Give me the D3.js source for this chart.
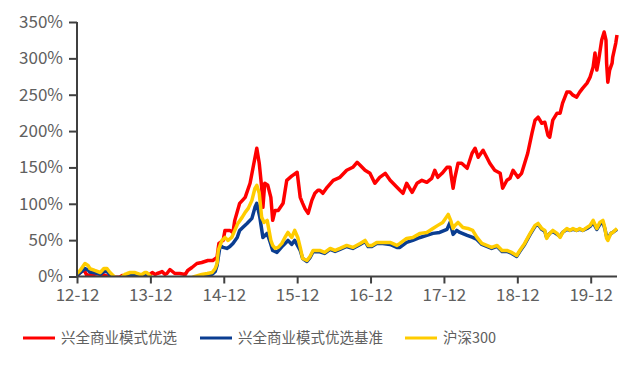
<!DOCTYPE html>
<html><head><meta charset="utf-8">
<script src="https://cdn.jsdelivr.net/npm/d3@7"></script>
<style>html,body{margin:0;padding:0;background:#fff;}svg{display:block;}</style>
</head><body>
<svg id="c" width="640" height="369"></svg>
<script>
// months since 2012-12, cumulative return (%)
const fund = [[0,0],[0.5,5.5],[1.0,8.3],[1.3,6.9],[1.6,1.4],[2.5,2.8],[3.8,4.1],[4.6,1.4],[5.4,-1],[7.0,-1],[7.4,1.4],[8.5,-1],[9.5,0.5],[11.1,1.5],[11.9,2.8],[12.3,5.5],[12.8,2.8],[13.1,4.1],[13.6,5.5],[13.9,6.9],[14.4,2.8],[14.7,4.1],[15.2,9.6],[16.0,4.1],[16.8,4.1],[17.7,2.8],[18.1,8.3],[18.8,12.4],[19.6,17.9],[20.4,19.3],[21.4,22.0],[22.2,22.0],[22.9,26.2],[23.2,45.5],[23.9,49.6],[24.2,63.4],[25.0,63.4],[25.5,60.6],[25.8,77.2],[26.6,100.6],[27.5,108.9],[28.3,128.2],[28.8,150.2],[29.4,176.4],[29.8,155.7],[30.2,122.6],[30.4,95.1],[30.7,128.2],[31.2,125.4],[31.7,108.9],[32.0,77.2],[32.4,90.9],[32.9,90.9],[33.7,100.6],[34.3,132.3],[35.1,138.0],[36.0,143.3],[36.5,108.9],[36.9,100.6],[37.3,93.0],[37.8,86.8],[38.4,104.7],[38.9,114.4],[39.4,118.5],[39.7,118.5],[40.2,114.4],[40.9,122.6],[41.9,132.3],[43.0,136.4],[44.1,146.1],[45.1,150.2],[45.8,157.1],[46.3,153.0],[47.1,146.1],[47.9,141.9],[48.7,128.2],[49.5,136.4],[50.4,141.9],[51.2,132.3],[52.0,125.4],[52.8,118.5],[53.3,114.4],[53.9,128.2],[54.8,115.8],[55.6,128.2],[56.4,132.3],[57.2,129.5],[58.0,135.0],[58.5,146.1],[59.0,136.4],[59.7,141.9],[60.5,150.2],[61.0,150.2],[61.3,132.3],[61.5,121.3],[61.8,136.4],[62.3,155.7],[62.9,155.7],[63.8,148.8],[64.6,169.5],[65.1,176.4],[65.6,164.0],[66.4,173.6],[67.0,164.0],[67.5,155.7],[68.3,146.1],[69.2,141.9],[69.6,121.3],[70.3,132.3],[70.8,135.0],[71.3,146.1],[72.1,136.4],[72.7,141.9],[73.2,155.7],[73.7,169.5],[74.4,197.1],[74.9,215.0],[75.4,219.1],[76.0,210.8],[76.5,212.2],[77.0,194.3],[77.3,191.5],[77.8,215.0],[78.5,224.6],[79.0,224.6],[79.4,238.4],[80.1,253.6],[80.6,253.6],[81.1,249.4],[81.7,246.7],[82.2,253.6],[82.7,259.1],[83.4,266.0],[83.9,274.2],[84.4,288.0],[84.7,307.3],[85.0,283.9],[85.3,297.6],[85.8,325.2],[86.2,336.2],[86.5,325.2],[86.6,293.5],[86.8,267.3],[87.1,283.9],[87.5,293.5],[87.6,301.8],[88.1,321.1],[88.3,332.1]];

const bench = [[0,2],[0.5,5],[1.3,11],[1.8,9],[2.1,6],[2.9,5],[3.8,3],[4.4,7],[4.9,7],[5.4,2],[5.9,0],[6.2,-2],[7.0,-3],[7.8,1],[8.2,2],[8.7,3],[9.5,3],[10.3,1],[11.1,3],[11.9,0],[12.4,-3],[13.6,-6],[15.2,-7],[16.8,-5],[18.1,-3],[19.3,-1],[20.4,1],[21.3,2],[22.1,3],[22.6,7],[22.9,15.2],[23.4,42.7],[23.9,40.0],[24.5,38.6],[25.0,41.3],[25.5,45.5],[26.2,53.7],[26.6,63.4],[27.1,67.5],[27.8,73.0],[28.6,79.9],[29.1,95.1],[29.4,100.6],[29.9,81.3],[30.4,53.7],[31.1,59.3],[31.6,46.9],[32.0,35.8],[32.7,33.1],[33.7,42.7],[34.5,49.6],[35.1,44.1],[35.6,49.6],[36.5,35.8],[36.9,24.8],[37.6,20.7],[38.1,26.0],[38.6,34.0],[39.7,34.0],[40.5,31.7],[41.4,37.2],[42.2,34.4],[43.0,37.2],[44.1,41.3],[45.1,38.6],[46.3,44.1],[47.1,48.2],[47.6,41.3],[48.2,41.3],[49.0,45.5],[50.0,45.5],[51.2,44.1],[52.3,40.0],[52.8,40.0],[53.9,46.9],[54.9,49.6],[56.1,53.7],[57.2,56.5],[58.2,59.3],[59.3,60.6],[60.5,64.8],[61.0,74.4],[61.5,57.9],[62.1,63.4],[62.6,60.6],[63.8,56.5],[64.7,53.7],[65.4,51.0],[66.2,44.1],[67.0,41.3],[67.8,38.6],[68.7,41.3],[69.5,34.4],[70.3,34.4],[71.1,31.7],[71.9,27.6],[72.4,34.4],[73.2,44.1],[74.1,57.9],[74.9,68.9],[75.4,71.7],[76.0,64.8],[76.5,62.0],[76.8,53.7],[77.3,59.3],[77.8,62.0],[78.5,57.9],[79.0,55.1],[79.4,60.6],[80.1,64.8],[80.6,63.4],[81.1,64.8],[81.7,63.4],[82.2,64.8],[82.7,63.4],[83.4,66.1],[83.9,68.9],[84.4,74.4],[85.0,64.8],[85.5,71.7],[86.0,74.4],[86.3,66.1],[86.6,55.1],[86.8,52.4],[87.3,59.3],[87.6,60.6],[88.3,64.8]];

const hs300 = [[0,4.1],[0.5,8.3],[1.3,17.9],[1.8,15.2],[2.1,11.0],[2.9,8.3],[3.8,5.5],[4.4,11.0],[4.9,11.0],[5.4,5.5],[5.9,1.4],[6.2,-1],[7.0,-3],[7.8,2.8],[8.2,4.1],[8.7,5.5],[9.5,5.5],[10.3,2.8],[10.6,2.8],[11.1,5.5],[11.4,5.5],[11.9,1.4],[12.4,-3],[13.6,-8],[15.2,-10],[16.8,-7],[18.1,-4],[19.3,0],[20.4,2.8],[21.3,4.1],[22.1,5.5],[22.6,11.0],[22.9,17.9],[23.1,35.8],[23.7,49.6],[24.2,53.7],[24.7,49.6],[25.3,53.7],[25.8,63.4],[26.3,73.0],[27.0,81.3],[27.5,88.2],[28.0,93.7],[28.6,104.7],[29.1,121.3],[29.4,125.4],[29.8,114.4],[30.2,81.3],[30.6,74.4],[31.1,77.2],[31.4,63.4],[31.7,49.6],[32.0,42.7],[32.4,38.6],[32.9,40.0],[33.5,45.5],[34.0,53.7],[34.5,60.6],[35.1,53.7],[35.6,63.4],[36.1,53.7],[36.5,40.0],[36.9,24.8],[37.6,22.0],[38.1,27.6],[38.6,35.8],[39.4,35.8],[39.7,35.8],[40.5,33.1],[41.4,38.6],[42.2,35.8],[43.0,38.6],[44.1,42.7],[45.1,40.0],[46.3,45.5],[47.1,49.6],[47.6,42.7],[48.2,42.7],[49.0,46.9],[50.0,46.9],[51.2,46.9],[52.3,42.7],[52.8,45.5],[53.9,52.4],[54.9,53.7],[56.1,59.3],[57.2,60.6],[58.2,66.1],[59.0,70.3],[59.8,74.4],[60.7,85.4],[61.1,77.2],[61.5,66.1],[61.8,70.3],[62.3,74.4],[63.1,67.5],[63.9,66.1],[64.7,63.4],[65.4,53.7],[66.2,45.5],[67.0,42.7],[67.8,40.0],[68.7,42.7],[69.5,35.8],[70.3,35.8],[71.1,33.1],[71.9,28.9],[72.4,35.8],[73.2,45.5],[74.1,59.3],[74.9,70.3],[75.4,73.0],[76.0,66.1],[76.5,63.4],[76.8,52.4],[77.3,59.3],[77.8,63.4],[78.5,59.3],[79.0,53.7],[79.4,60.6],[80.1,66.1],[80.6,63.4],[81.1,66.1],[81.7,63.4],[82.2,66.1],[82.7,63.4],[83.4,67.5],[83.9,70.3],[84.4,77.2],[85.0,66.1],[85.5,74.4],[86.0,77.2],[86.3,67.5],[86.6,52.4],[86.8,49.6],[87.3,59.3],[87.6,60.6],[88.3,66.1]];

const xTickMonths = [0,12,24,36,48,60,72,84];
const xTickLabels = ["12-12","13-12","14-12","15-12","16-12","17-12","18-12","19-12"];
const yTicks = [0,50,100,150,200,250,300,350];
const seriesNames = ["兴全商业模式优选","兴全商业模式优选基准","沪深300"];
const seriesColors = ["#ff0000","#0a3d91","#ffcc00"];

const svg = d3.select("#c");
const x = d3.scaleLinear().domain([0, 88.3]).range([77, 617]);
const y = d3.scaleLinear().domain([0, 350]).range([276.5, 22]);
const font = "'Noto Sans CJK SC', 'Liberation Sans', sans-serif";
const axisColor = "#404040";
const textColor = "#606060";

svg.append("defs").append("clipPath").attr("id","clip")
  .append("rect").attr("x",77).attr("y",0).attr("width",560).attr("height",276.5);

const line = d3.line().x(d=>x(d[0])).y(d=>y(d[1])).curve(d3.curveLinear);
const g = svg.append("g").attr("clip-path","url(#clip)");
[fund, bench, hs300].forEach((s,i)=>{
  g.append("path").datum(s).attr("d",line).attr("fill","none")
    .attr("stroke",seriesColors[i]).attr("stroke-width",3.5)
    .attr("stroke-linejoin","round");
});

// y axis
const yAxis = svg.append("g").attr("transform","translate(77,0)")
  .call(d3.axisLeft(y).tickValues(yTicks).tickFormat(d=>d+"%").tickSize(8).tickPadding(6));
// x axis
const xAxis = svg.append("g").attr("transform","translate(0,276.5)")
  .call(d3.axisBottom(x).tickValues(xTickMonths).tickFormat((d,i)=>xTickLabels[i]).tickSize(7).tickPadding(5));
[yAxis,xAxis].forEach(a=>{
  a.select(".domain").attr("stroke",axisColor).attr("stroke-width",2);
  a.selectAll(".tick line").attr("stroke",axisColor).attr("stroke-width",2);
  a.selectAll("text").attr("fill",textColor).attr("font-family",font).attr("font-size",17);
});
yAxis.select(".domain").attr("d","M0,22V276.5");
xAxis.select(".domain").attr("d","M77,0H617");

// legend
const legX = [23, 200, 405];
const leg = svg.append("g");
seriesNames.forEach((n,i)=>{
  leg.append("line").attr("x1",legX[i]).attr("x2",legX[i]+32).attr("y1",338).attr("y2",338)
    .attr("stroke",seriesColors[i]).attr("stroke-width",3);
  leg.append("text").attr("x",legX[i]+38).attr("y",338).attr("dy","0.35em")
    .attr("fill",textColor).attr("font-family",font).attr("font-size",14.5).text(n);
});
</script>
</body></html>
